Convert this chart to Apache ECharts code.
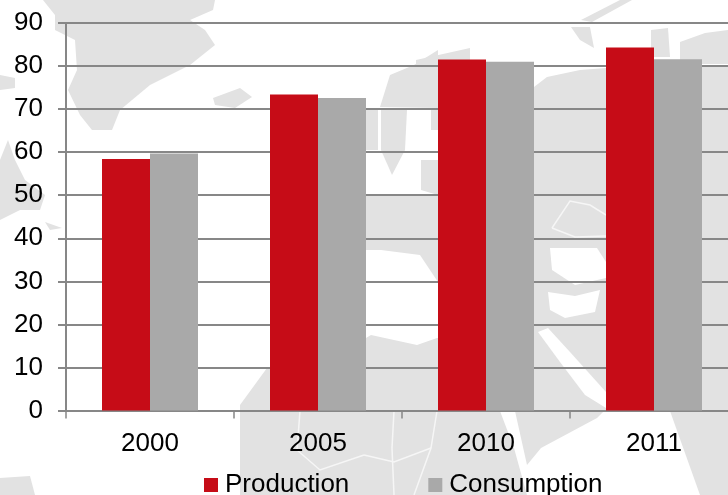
<!DOCTYPE html>
<html><head><meta charset="utf-8">
<style>html,body{margin:0;padding:0;background:#fff;width:728px;height:495px;overflow:hidden}#c{width:738px;height:495px}</style>
<script src="https://cdn.jsdelivr.net/npm/echarts@6/dist/echarts.min.js"></script>
</head><body><div id="c"></div>
<script>
const categories = ['2000','2005','2010','2011'];
const production = [58.4,73.4,81.5,84.3];
const consumption = [59.7,72.6,81.0,81.6];
const yTicks = {min:0,max:90,step:10};

// Decorative backdrop: rough outline of the world map behind the plot
const land = [
 [[43,0],[55,15],[55,30],[75,40],[77,70],[68,90],[80,115],[92,130],[112,130],[120,110],[150,85],[190,65],[215,45],[205,30],[190,20],[213,10],[215,0]],
 [[213,98],[240,88],[252,97],[235,108],[215,105]],
 [[0,160],[8,140],[15,160],[25,180],[45,195],[40,210],[20,210],[0,220]],
 [[0,75],[15,78],[15,88],[0,90]],
 [[45,222],[62,228],[50,230]],
 [[240,495],[240,405],[267,368],[366,368],[366,338],[371,335],[417,345],[437,338],[534,340],[534,380],[500,411],[514,448],[527,495]],
 [[366,196],[438,195],[438,240],[534,240],[534,282],[438,282],[420,255],[381,250],[366,250]],
 [[366,110],[378,110],[378,150],[366,150]],
 [[381,110],[407,110],[405,150],[392,175],[381,150]],
 [[421,160],[438,160],[438,195],[421,190]],
 [[431,110],[438,110],[438,130],[431,130]],
 [[380,107],[390,75],[414,65],[438,50],[438,108]],
 [[534,87],[547,77],[580,70],[606,68],[606,411],[604,411],[597,418],[541,448],[527,465],[515,411],[534,400]],
 [[702,67],[728,67],[728,411],[702,411]],
 [[571,27],[590,27],[594,48],[580,40]],
 [[581,20],[620,0],[632,0],[592,22]],
 [[651,30],[668,28],[670,57],[651,57]],
 [[680,42],[705,33],[728,30],[728,64],[680,64]],
 [[670,411],[728,411],[728,495],[700,495]],
 [[416,60],[470,48],[470,66],[416,66]],
 [[0,478],[30,476],[35,495],[0,495]]
];
const seaPatches = [
 [[550,248],[597,248],[606,262],[606,278],[575,285],[552,270]],
 [[381,254],[415,255],[420,272],[390,278]],
 [[548,292],[575,296],[600,290],[595,312],[565,318],[550,310]],
 [[538,332],[548,328],[570,352],[606,392],[606,408],[585,395],[560,362]]
];
const borders = [
 [[437,411],[431,448],[414,495]],
 [[394,411],[392,448],[394,495]],
 [[364,455],[394,462],[431,448]],
 [[300,411],[297,450],[320,470],[364,455]],
 [[552,228],[570,201],[590,205],[606,215]],
 [[552,228],[575,237],[606,236]]
];

const graphicEls = land.map(p=>({type:'polygon',silent:true,z:-3,shape:{points:p},style:{fill:'#e2e2e2'}}))
 .concat(seaPatches.map(p=>({type:'polygon',silent:true,z:-2,shape:{points:p},style:{fill:'#ffffff'}})))
 .concat(borders.map(p=>({type:'polyline',silent:true,z:-1,shape:{points:p},style:{stroke:'#f6f6f6',lineWidth:1.5,fill:null}})));

const axisColor='#878787', font='"Liberation Sans", Arial, sans-serif';
const chart = echarts.init(document.getElementById('c'),null,{renderer:'canvas'});
chart.setOption({
 animation:false,
 backgroundColor:'#ffffff',
 graphic:graphicEls,
 grid:{left:66,top:23,width:672,height:387.5,containLabel:false},
 legend:{left:199,top:467,itemWidth:14,itemHeight:14,itemGap:79,icon:'rect',
  textStyle:{fontFamily:font,fontSize:26,color:'#000',padding:[0,0,0,2]},
  data:['Production','Consumption']},
 xAxis:{type:'category',data:categories,
  axisLine:{lineStyle:{color:axisColor,width:2}},
  axisTick:{show:true,length:8,alignWithLabel:false,lineStyle:{color:axisColor,width:1.5}},
  axisLabel:{fontFamily:font,fontSize:26,color:'#000',margin:20,interval:0},
  splitLine:{show:false}},
 yAxis:{type:'value',min:yTicks.min,max:yTicks.max,interval:yTicks.step,
  axisLine:{show:true,lineStyle:{color:axisColor,width:2}},
  axisTick:{show:true,length:8,lineStyle:{color:axisColor,width:2}},
  axisLabel:{fontFamily:font,fontSize:26,color:'#000',margin:23},
  splitLine:{show:true,lineStyle:{color:axisColor,width:2}}},
 series:[
  {name:'Production',type:'bar',data:production,barWidth:48,barGap:0,itemStyle:{color:'#c60c17'}},
  {name:'Consumption',type:'bar',data:consumption,barWidth:48,barGap:0,itemStyle:{color:'#a9a9a9'}}
 ]
});
</script></body></html>
